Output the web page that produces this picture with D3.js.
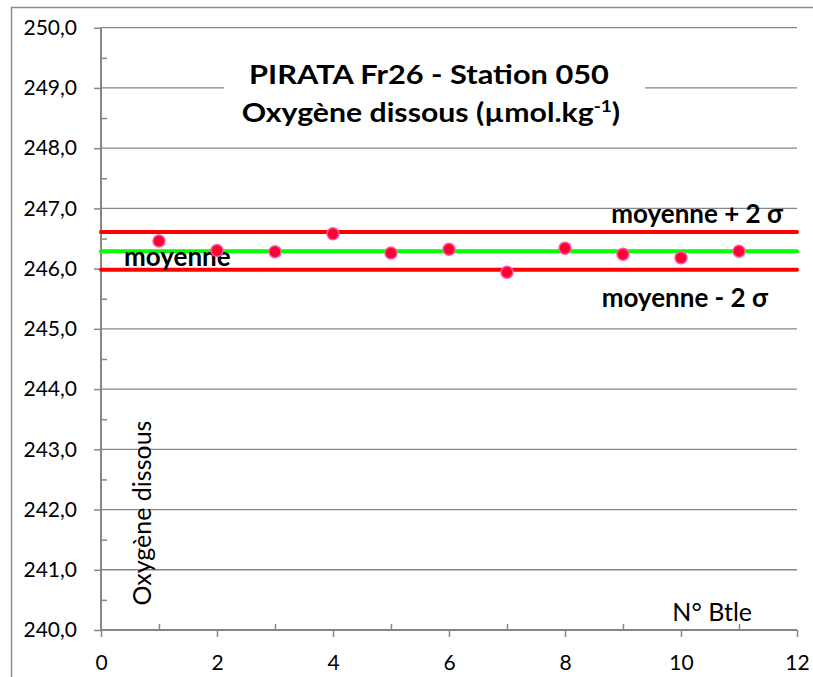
<!DOCTYPE html>
<html><head><meta charset="utf-8">
<script src="https://cdn.jsdelivr.net/npm/d3@7/dist/d3.min.js"></script>
<style>
html,body{margin:0;padding:0;background:#fff;}
svg{display:block;}
</style></head>
<body>
<script>
// ---- data ----
const bottles = [1,2,3,4,5,6,7,8,9,10,11];
const oxygen = [246.46,246.30,246.28,246.58,246.26,246.32,245.94,246.34,246.24,246.18,246.29];
const refNames = ["moyenne + 2 σ","moyenne","moyenne - 2 σ"];
const refValues = [246.61,246.29,245.98];
const refColors = ["#ff0000","#00ff00","#ff0000"];
const yTicks = [240,241,242,243,244,245,246,247,248,249,250];
const yMinorTicks = [240.5,241.5,242.5,243.5,244.5,245.5,246.5,247.5,248.5,249.5];
const xTicks = [0,2,4,6,8,10,12];
const xMinorTicks = [1,3,5,7,9,11];
const titleLine1 = "PIRATA Fr26 - Station 050";
const yTitle = "Oxygène dissous";
const xTitle = "N° Btle";

const W = 813, H = 677;
const svg = d3.select("body").append("svg").attr("width", W).attr("height", H);
const font = "Lato, 'Open Sans', sans-serif";
const axisColor = "#868686";

// outer frame
svg.append("rect").attr("x",11.5).attr("y",7.5).attr("width",W).attr("height",H)
  .attr("fill","none").attr("stroke","#8c8c8c").attr("stroke-width",1.5);

const x = d3.scaleLinear().domain([0,12]).range([101,797]);
const y = d3.scaleLinear().domain([240,250]).range([630,27.7]);

// gridlines
svg.append("g").selectAll("line").data(yTicks.slice(1)).join("line")
  .attr("x1",x(0)).attr("x2",x(12))
  .attr("y1",d=>y(d)).attr("y2",d=>y(d))
  .attr("stroke",axisColor).attr("stroke-width",1.3);

// y axis major (outside)
const gy = svg.append("g").attr("transform",`translate(${x(0)},0)`)
  .call(d3.axisLeft(y).tickValues(yTicks).tickSize(7).tickPadding(17)
        .tickFormat(d=>d3.format(".1f")(d).replace(".",",")));
// y minor (inside)
const gy2 = svg.append("g").attr("transform",`translate(${x(0)},0)`)
  .call(d3.axisRight(y).tickValues(yMinorTicks).tickSize(6).tickFormat(""));
// x axis major
const gx = svg.append("g").attr("transform",`translate(0,${y(240)})`)
  .call(d3.axisBottom(x).tickValues(xTicks).tickSize(7).tickPadding(18));
const gx2 = svg.append("g").attr("transform",`translate(0,${y(240)})`)
  .call(d3.axisTop(x).tickValues(xMinorTicks).tickSize(6).tickFormat(""));

[gy,gy2,gx,gx2].forEach(g=>{
  g.select(".domain").attr("stroke",axisColor).attr("stroke-width",2);
  g.selectAll(".tick line").attr("stroke",axisColor).attr("stroke-width",1.5);
  g.selectAll("text").attr("font-family",font).attr("font-size",21).attr("fill","#000");
});
gy.select(".domain").attr("d",`M0,${y(250)}V${y(240)}`);
gy2.select(".domain").remove();
gx2.select(".domain").remove();
gx.select(".domain").attr("d",`M${x(0)},0H${x(12)}`);

// title background box
svg.append("rect").attr("x",224).attr("y",50).attr("width",421).attr("height",92).attr("fill","#fff");
const t1 = svg.append("text").attr("font-family",font).attr("font-weight","bold")
  .attr("font-size",27).attr("text-anchor","middle").attr("fill","#000")
  .attr("transform","translate(429,84) scale(1.14,1)").text(titleLine1);
const t2 = svg.append("text").attr("font-family",font).attr("font-weight","bold")
  .attr("font-size",27).attr("text-anchor","middle").attr("fill","#000")
  .attr("transform","translate(431,122) scale(1.12,1)");
t2.append("tspan").text("Oxygène dissous (µmol.kg");
t2.append("tspan").attr("dy",-10).attr("font-size",17).text("-1");
t2.append("tspan").attr("dy",10).text(")");

// reference lines
svg.append("g").selectAll("line").data(refValues).join("line")
  .attr("x1",x(0)).attr("x2",x(12))
  .attr("y1",d=>y(d)).attr("y2",d=>y(d))
  .attr("stroke",(d,i)=>refColors[i]).attr("stroke-width",4).attr("stroke-linecap","round");

// labels for reference lines
const lbl = svg.append("g").attr("font-family",font).attr("font-weight","bold").attr("font-size",26).attr("fill","#000");
lbl.append("text").attr("x",783).attr("y",y(refValues[0])-9).attr("text-anchor","end").text(refNames[0]);
lbl.append("text").attr("x",124).attr("y",y(refValues[1])+15).text(refNames[1]);
lbl.append("text").attr("x",768).attr("y",y(refValues[2])+37).attr("text-anchor","end").text(refNames[2]);

// points
svg.append("g").selectAll("circle").data(bottles).join("circle")
  .attr("cx",d=>x(d)).attr("cy",(d,i)=>y(oxygen[i])).attr("r",6)
  .attr("fill","#ff0033").attr("stroke","#ff5aa5").attr("stroke-width",1.5);

// axis titles
svg.append("text").attr("font-family",font).attr("font-size",25).attr("fill","#000")
  .attr("text-anchor","middle")
  .attr("transform",`translate(151,513) rotate(-90)`).text(yTitle);
svg.append("text").attr("font-family",font).attr("font-size",25).attr("fill","#000")
  .attr("text-anchor","end").attr("x",752).attr("y",621).text(xTitle);
</script>
</body></html>
